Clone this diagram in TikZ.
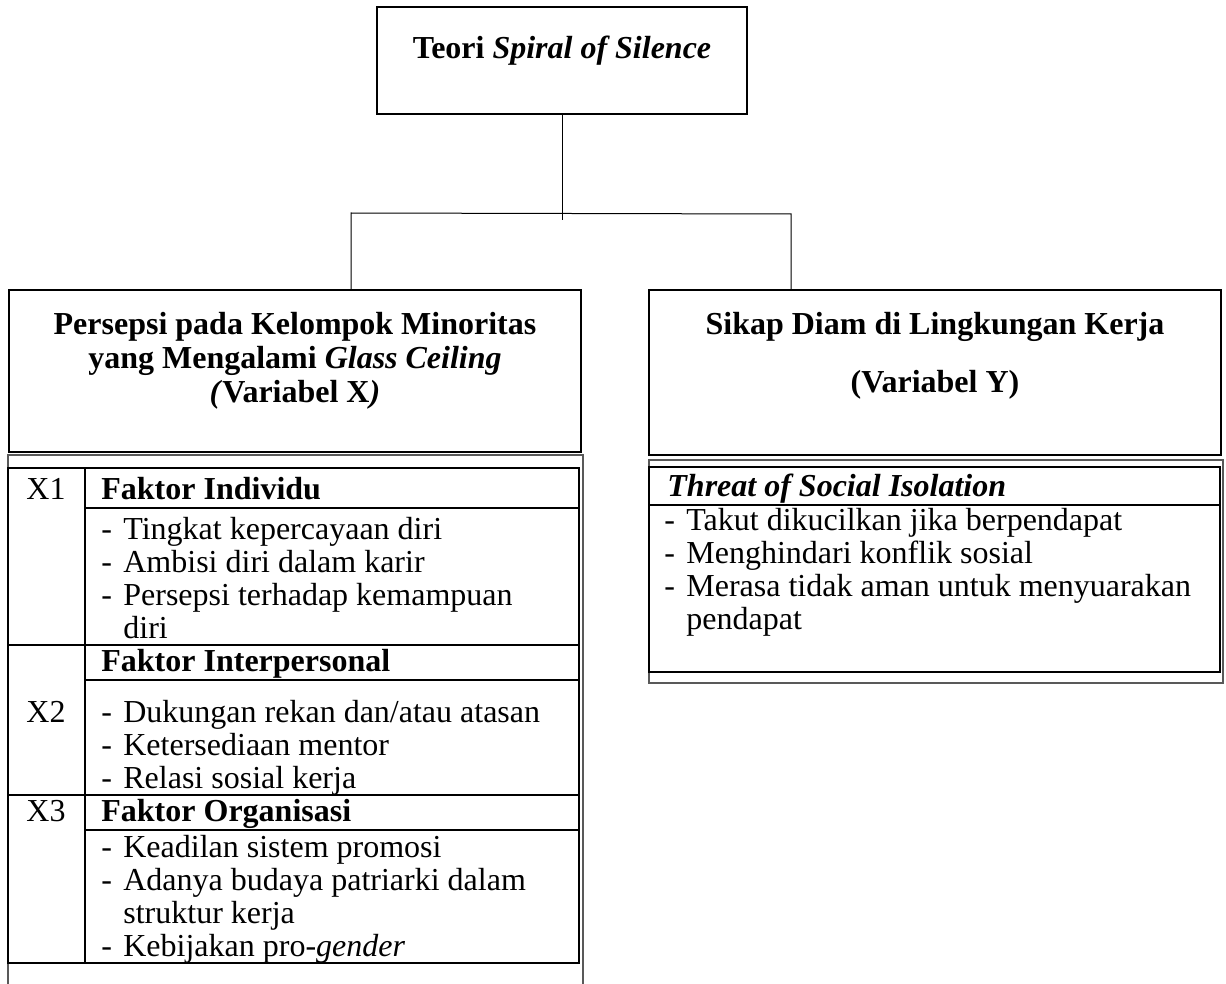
\documentclass[tikz,border=0pt]{standalone}
\usepackage{fontspec}
\setmainfont{Liberation Serif}
\usepackage{array}

\tikzset{
  kotak/.style={draw,line width=1.1pt,inner sep=0pt},
  garis/.style={line width=0.5pt},
  bingkai/.style={draw=black!65,line width=0.7pt},
  tabel/.style={line width=1pt},
  teks/.style={inner sep=0pt,font=\fontsize{16}{16.5}\selectfont},
  tebal/.style={inner sep=0pt,font=\fontsize{16}{16.5}\selectfont\bfseries}
}

\begin{document}
\begin{tikzpicture}[x=0.5pt,y=-0.5pt]
\useasboundingbox (0,0) rectangle (1226,984);

% teori
\node[kotak,minimum width=185pt,minimum height=53.5pt] (teori) at (562,60.5) {};
\node[tebal,anchor=base] (judulteori) at (562,59) {Teori \textit{Spiral of Silence}};

% variabel X dan Y
\node[kotak,minimum width=286pt,minimum height=81pt] (varx) at (295,371) {};
\node[kotak,minimum width=286pt,minimum height=82.5pt] (vary) at (935,372.5) {};
\node[tebal,anchor=base] (judulx) at (295,335) {\begin{tabular}[t]{@{}c@{}}Persepsi pada Kelompok Minoritas\\[0.5pt] yang Mengalami \textit{Glass Ceiling}\\[0.5pt] \textit{(}Variabel X\textit{)}\end{tabular}};
\node[tebal,anchor=base] (juduly) at (935,335) {\begin{tabular}[t]{@{}c@{}}Sikap Diam di Lingkungan Kerja\\[12pt] (Variabel Y)\end{tabular}};

% cabang
\coordinate (pusat) at (562,220);
\coordinate (cabkiri) at (351,213);
\coordinate (cabkanan) at (791,214);
\draw[garis] (teori.south) -- (pusat);
\draw[garis] (cabkiri |- varx.north) -- (cabkiri) -- (cabkanan) -- (cabkanan |- vary.north);

% tabel X
\draw[bingkai] (8,984) -- (8,455) -- (583,455) -- (583,984);
\draw[tabel] (8,468) rectangle (579,963);
\draw[tabel] (85,468) -- (85,963);
\draw[tabel] (85,508) -- (579,508);
\draw[tabel] (8,645) -- (579,645);
\draw[tabel] (85,680) -- (579,680);
\draw[tabel] (8,795) -- (579,795);
\draw[tabel] (85,830) -- (579,830);

\node[teks,anchor=base] (x1) at (46,499) {X1};
\node[teks,anchor=base] (x2) at (46,722) {X2};
\node[teks,anchor=base] (x3) at (46,821) {X3};
\node[tebal,anchor=base west] (individu) at (101,499) {Faktor Individu};
\node[tebal,anchor=base west] (interpersonal) at (101,671) {Faktor Interpersonal};
\node[tebal,anchor=base west] (organisasi) at (101,821) {Faktor Organisasi};
\node[teks,anchor=base west] (butirx1) at (101,539) {\begin{tabular}[t]{@{}p{11pt}@{}l@{}}
  -&Tingkat kepercayaan diri\\ -&Ambisi diri dalam karir\\
  -&Persepsi terhadap kemampuan\\ &diri\end{tabular}};
\node[teks,anchor=base west] (butirx2) at (101,722) {\begin{tabular}[t]{@{}p{11pt}@{}l@{}}
  -&Dukungan rekan dan/atau atasan\\ -&Ketersediaan mentor\\
  -&Relasi sosial kerja\end{tabular}};
\node[teks,anchor=base west] (butirx3) at (101,857) {\begin{tabular}[t]{@{}p{11pt}@{}l@{}}
  -&Keadilan sistem promosi\\ -&Adanya budaya patriarki dalam\\
  &struktur kerja\\ -&Kebijakan pro-\textit{gender}\end{tabular}};

% tabel Y
\draw[bingkai] (649,460) rectangle (1223,683);
\draw[tabel] (649,467) rectangle (1220,672);
\draw[tabel] (649,505) -- (1220,505);
\node[tebal,anchor=base west] (ancaman) at (667,496) {\textit{Threat of Social Isolation}};
\node[teks,anchor=base west] (butiry) at (664,530) {\begin{tabular}[t]{@{}p{11pt}@{}l@{}}
  -&Takut dikucilkan jika berpendapat\\ -&Menghindari konflik sosial\\
  -&Merasa tidak aman untuk menyuarakan\\ &pendapat\end{tabular}};
\end{tikzpicture}
\end{document}
